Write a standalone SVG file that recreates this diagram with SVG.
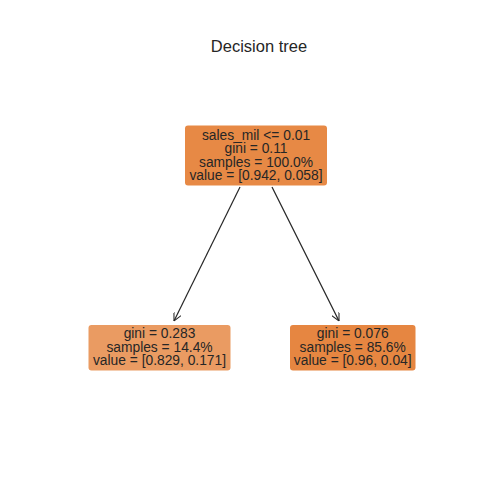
<svg xmlns="http://www.w3.org/2000/svg" width="500" height="500" viewBox="0 0 500 500">
<defs>
<style>
text{font-family:"Liberation Sans",Arial,sans-serif;fill:#262626;text-anchor:middle}
.n{font-size:13.8px}
.t{font-size:16.5px}
.c{stroke:#262626;stroke-width:1.2;fill:none}
</style>
<marker id="ah" viewBox="0 0 10 10" refX="10" refY="5" markerWidth="8" markerHeight="8" markerUnits="userSpaceOnUse" orient="auto">
<path d="M0,0 L10,5 L0,10" fill="none" stroke="#262626" stroke-width="1.3"/>
</marker>
</defs>
<rect width="500" height="500" fill="#ffffff"/>
<text class="t" x="259" y="52">Decision tree</text>
<g id="connectors">
<line class="c" x1="240" y1="187" x2="174" y2="321" marker-end="url(#ah)"/>
<line class="c" x1="272" y1="187" x2="339" y2="321" marker-end="url(#ah)"/>
</g>
<g id="node0">
<rect x="185" y="125.5" width="142" height="60" rx="3" fill="#e78945"/>
<text class="n" x="256" y="139.8">sales_mil &lt;= 0.01</text>
<text class="n" x="256" y="153.3">gini = 0.11</text>
<text class="n" x="256" y="166.8">samples = 100.0%</text>
<text class="n" x="256" y="180.3">value = [0.942, 0.058]</text>
</g>
<g id="node1">
<rect x="88.5" y="325" width="142" height="45.5" rx="3" fill="#ea9b62"/>
<text class="n" x="159.5" y="338.3">gini = 0.283</text>
<text class="n" x="159.5" y="351.8">samples = 14.4%</text>
<text class="n" x="159.5" y="365.3">value = [0.829, 0.171]</text>
</g>
<g id="node2">
<rect x="290" y="325" width="125.5" height="45.5" rx="3" fill="#e68641"/>
<text class="n" x="352.7" y="338.3">gini = 0.076</text>
<text class="n" x="352.7" y="351.8">samples = 85.6%</text>
<text class="n" x="352.7" y="365.3">value = [0.96, 0.04]</text>
</g>
</svg>
